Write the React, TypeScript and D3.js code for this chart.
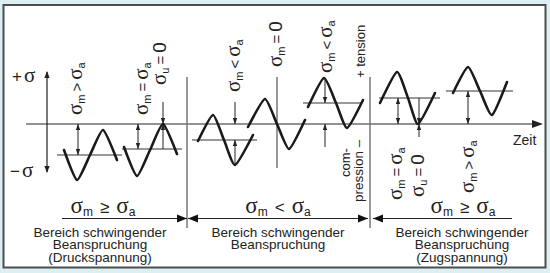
import * as d3 from "d3";

// key points of each sketched stress cycle: time along the axis, stress relative to the time axis
const waveTimes = [
  [17, 30, 43, 56, 70],
  [77, 90, 103, 116, 130],
  [151, 166, 177, 188, 206],
  [201, 218, 230, 242, 258],
  [261, 277, 289, 300, 316],
  [333, 350, 361, 371, 388],
  [406, 421, 433, 445, 460],
];
const waveStress = [
  [-26, -56, -31, -6, -36],
  [-23, -52, -26, 0, -30],
  [-17, 9, -16, -41, -11],
  [-3, 25, 0, -25, 4],
  [17, 46, 21, -4, 24],
  [21, 52, 26, 0, 31],
  [31, 57, 33, 9, 42],
];

// mean stress lines
const meanStart = [10, 75, 145, 256, 332, 399];
const meanEnd = [75, 135, 210, 315, 393, 466];
const meanStress = [-31, -25, -16, 21, 26, 33];

// sigma_m = 0 marker
const zeroMeanTime = 230;
const zeroMeanRange = [47, -44];

// small dimension arrows
const arrowTime = [31, 91, 116, 116, 188, 188, 278, 278, 351, 372, 372, 421];
const arrowFrom = [0, 0, 22, -25, 22, -41, 46, -23, 26, 26, -13, 33];
const arrowTo = [-31, -25, 0, 0, 0, -16, 21, 0, 0, 0, 0, 0];
const arrowBoth = [true, true, false, false, false, false, false, false, true, false, false, true];

// rotated labels
const labelSub = ["m", "m", "u", "m", "m", "m", "m", "u", "m"];
const labelOp = [">", "=", "=", "<", "=", "<", "=", "=", ">"];
const labelRhsSub = ["a", "a", "", "a", "", "a", "a", "", "a"]; // "" -> 0
const labelTime = [35, 101, 119, 193, 235, 285, 355, 377, 427];
const labelStress = [9, 9, 39, 32, 57, 51, -76, -73, -69];

// regions
const dividers = [140, 323];
const dividerRange = [47, -104];
const regionFrom = [15, 141, 326];
const regionTo = [140, 321, 465];
const regionHeads = ["end", "both", "start"];
const regionOp = ["≥", "<", "≥"];
const regionLines = [
  ["Bereich schwingender", "Beanspruchung", "(Druckspannung)"],
  ["Bereich schwingender", "Beanspruchung"],
  ["Bereich schwingender", "Beanspruchung", "(Zugspannung)"],
];
const regionLabelX = [103, 278, 463];
const regionTextX = [100, 278, 462];

const SERIF = "'Liberation Serif', 'DejaVu Serif', serif";
const SANS = "'Liberation Sans', Arial, sans-serif";

const head = (px: number, py: number, dx: number, dy: number, len: number, hw: number) => {
  const bx = px - dx * len;
  const by = py - dy * len;
  return `M${px},${py}L${bx - dy * hw},${by + dx * hw}L${bx + dy * hw},${by - dx * hw}Z`;
};

export default function App() {
  const width = 550;
  const height = 273;
  const x = d3.scaleLinear().domain([0, 496]).range([47, 543]);
  const y = d3.scaleLinear().domain([-50, 50]).range([174, 74]);
  const line = d3
    .line<[number, number]>()
    .x((d) => x(d[0]))
    .y((d) => y(d[1]))
    .curve(d3.curveCardinal.tension(0.45));

  const y0 = y(0);

  const sigmaExpr = (sub: string, op: string, rhsSub: string, big: boolean) => {
    const s = big ? 23 : 21;
    const subSize = big ? 12 : 11;
    const opSize = big ? 17 : 15;
    const gap = big ? 7 : 3;
    return [
      <tspan key="a" fontFamily={SERIF} fontSize={s}>σ</tspan>,
      <tspan key="b" fontFamily={SANS} fontSize={subSize} dy={3}>{sub}</tspan>,
      <tspan key="c" fontFamily={SANS} fontSize={opSize} dy={-3} dx={gap}>{op}</tspan>,
      rhsSub ? (
        <tspan key="d" fontFamily={SERIF} fontSize={s} dx={gap}>σ</tspan>
      ) : (
        <tspan key="d" fontFamily={SANS} fontSize={s - 2} dx={gap}>0</tspan>
      ),
      rhsSub ? (
        <tspan key="e" fontFamily={SANS} fontSize={subSize} dy={3}>{rhsSub}</tspan>
      ) : null,
    ];
  };

  return (
    <div style={{ position: "absolute", left: 0, top: 0 }}>
      <svg width={width} height={height} style={{ display: "block" }}>
        <rect width={width} height={height} fill="#dcf0f4" />
        <rect x={3.5} y={5} width={542} height={262.5} fill="#fff" stroke="#4d4d4d" strokeWidth={2} />

        {/* time axis */}
        <line x1={x(-21)} x2={x(490)} y1={y0} y2={y0} stroke="#6e6e6e" strokeWidth={1.5} />
        <path d={head(x(496), y0, 1, 0, 11, 4)} fill="#222" />
        <text x={x(466)} y={y(-21)} fontFamily={SANS} fontSize={14} fill="#222">Zeit</text>

        {/* stress axis */}
        <line x1={x(0)} x2={x(0)} y1={y(52)} y2={y(-48)} stroke="#222" strokeWidth={1.2} />
        <path d={head(x(0), y(53), 0, -1, 7, 2.6)} fill="#222" />
        <path d={head(x(0), y(-49), 0, 1, 7, 2.6)} fill="#222" />
        <text x={x(-35)} y={y(42)} fill="#222">
          <tspan fontFamily={SANS} fontSize={17}>+</tspan>
          <tspan fontFamily={SERIF} fontSize={21} dx={2}>σ</tspan>
        </text>
        <text x={x(-37)} y={y(-53)} fill="#222">
          <tspan fontFamily={SANS} fontSize={17}>−</tspan>
          <tspan fontFamily={SERIF} fontSize={21} dx={2}>σ</tspan>
        </text>

        {/* dividers */}
        {dividers.map((t, i) => (
          <line key={i} x1={x(t)} x2={x(t)} y1={y(dividerRange[0])} y2={y(dividerRange[1])} stroke="#777" strokeWidth={1.5} />
        ))}
        <line x1={x(zeroMeanTime)} x2={x(zeroMeanTime)} y1={y(zeroMeanRange[0])} y2={y(zeroMeanRange[1])} stroke="#777" strokeWidth={1.5} />

        {/* mean lines */}
        {meanStress.map((m, i) => (
          <line key={i} x1={x(meanStart[i])} x2={x(meanEnd[i])} y1={y(m)} y2={y(m)} stroke="#777" strokeWidth={1.5} />
        ))}

        {/* arrows */}
        {arrowTime.map((t, i) => {
          const ya = y(arrowFrom[i]);
          const yb = y(arrowTo[i]);
          const dir = yb > ya ? 1 : -1;
          return (
            <g key={i} fill="#222">
              <line x1={x(t)} x2={x(t)} y1={ya} y2={yb} stroke="#222" strokeWidth={1} />
              <path d={head(x(t), yb, 0, dir, 6, 2.2)} />
              {arrowBoth[i] ? <path d={head(x(t), ya, 0, -dir, 6, 2.2)} /> : null}
            </g>
          );
        })}

        {/* waves */}
        {waveTimes.map((ts, i) => (
          <path
            key={i}
            d={line(ts.map((t, j) => [t, waveStress[i][j]] as [number, number])) || ""}
            fill="none"
            stroke="#1a1a1a"
            strokeWidth={2.6}
            strokeLinecap="round"
            strokeLinejoin="round"
          />
        ))}

        {/* rotated labels */}
        {labelTime.map((t, i) => (
          <text key={i} transform={`translate(${x(t)},${y(labelStress[i])}) rotate(-90)`} fill="#222" style={{ whiteSpace: "pre" }}>
            {sigmaExpr(labelSub[i], labelOp[i], labelRhsSub[i], false)}
          </text>
        ))}
        <text transform={`translate(${x(318)},${y(46)}) rotate(-90)`} fontFamily={SANS} fontSize={13} fill="#222" style={{ whiteSpace: "pre" }}>
          + tension
        </text>
        <text transform={`translate(${x(303)},${y(-53)}) rotate(-90)`} fontFamily={SANS} fontSize={13} fill="#222">
          com-
        </text>
        <text transform={`translate(${x(316)},${y(-78)}) rotate(-90)`} fontFamily={SANS} fontSize={13.5} fill="#222" style={{ whiteSpace: "pre" }}>
          pression –
        </text>

        {/* region arrows and text */}
        {regionFrom.map((f, i) => {
          const yr = y(-94.5);
          const h = regionHeads[i];
          return (
            <g key={i} fill="#111">
              <line x1={x(f)} x2={x(regionTo[i])} y1={yr} y2={yr} stroke="#222" strokeWidth={1.2} />
              {h === "end" || h === "both" ? <path d={head(x(regionTo[i]), yr, 1, 0, 10, 4)} /> : null}
              {h === "start" || h === "both" ? <path d={head(x(f), yr, -1, 0, 10, 4)} /> : null}
              <text x={regionLabelX[i]} y={213} textAnchor="middle" fill="#222" style={{ whiteSpace: "pre" }}>
                {sigmaExpr("m", regionOp[i], "a", true)}
              </text>
              {regionLines[i].map((s, j) => (
                <text key={j} x={regionTextX[i]} y={236.5 + j * 12.5} textAnchor="middle" fontFamily={SANS} fontSize={13.5} fill="#222">
                  {s}
                </text>
              ))}
            </g>
          );
        })}
      </svg>
    </div>
  );
}
